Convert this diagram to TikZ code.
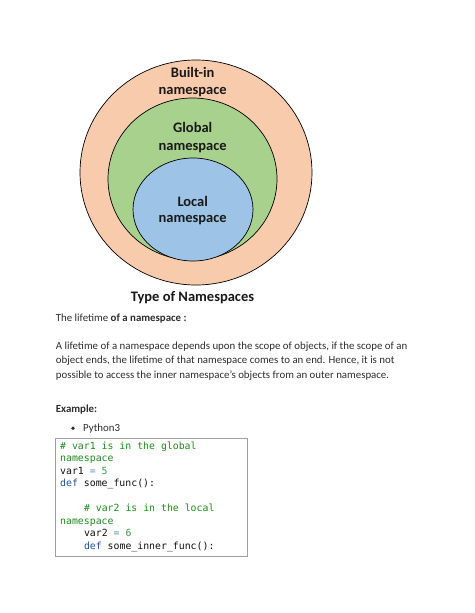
\documentclass[tikz,border=0pt]{standalone}
\usepackage{fontspec}
\setmainfont{Carlito}
\newfontfamily\codefont{DejaVu Sans Mono}
\definecolor{peach}{HTML}{F8CBAD}
\definecolor{leaf}{HTML}{A9D18E}
\definecolor{sky}{HTML}{9DC3E6}
\definecolor{bodytext}{HTML}{2E2E2E}
\definecolor{cmt}{HTML}{1E8C1E}
\definecolor{kw}{HTML}{1F4FA8}
\definecolor{num}{HTML}{3A9A4A}
\definecolor{op}{HTML}{5A8FB8}
\definecolor{codetext}{HTML}{111111}
\definecolor{boxline}{HTML}{A0A0A0}
\begin{document}
\begin{tikzpicture}[x=1pt,y=-1pt,
  ring/.style={draw=black,line width=0.7pt},
  circlabel/.style={font=\fontsize{14.5}{17}\selectfont\bfseries,text=black!90,anchor=base,inner sep=0pt},
  bodyline/.style={font=\fontsize{10.85}{14.5}\selectfont,text=bodytext,anchor=base west,inner sep=0pt},
  codeline/.style={font=\codefont\fontsize{9.85}{12.5}\selectfont,text=codetext,anchor=base west,inner sep=0pt}]
\useasboundingbox (0,0) rectangle (474,613);
\fill[white] (0,0) rectangle (474,613);
% circles
\draw[ring,fill=peach] (196,172.5) ellipse [x radius=116,y radius=112.5];
\draw[ring,fill=leaf] (192.5,179) ellipse [x radius=84.5,y radius=81];
\draw[ring,fill=sky] (193,209.5) ellipse [x radius=60,y radius=51.5];
\node[circlabel] (b1) at (192.7,77.4) {Built-in};
\node[circlabel] (b2) at (192.7,94.4) {namespace};
\node[circlabel] (g1) at (192.7,132.7) {Global};
\node[circlabel] (g2) at (192.7,150.1) {namespace};
\node[circlabel] (l1) at (192.7,206.4) {Local};
\node[circlabel] (l2) at (192.7,222.6) {namespace};
\node[circlabel] (title) at (192.5,301.4) {Type of Namespaces};
% body text
\node[bodyline] (life) at (55.7,321.5) {The lifetime \textbf{of a namespace :}};
\node[bodyline] (p1) at (55.7,349) {A lifetime of a namespace depends upon the scope of objects, if the scope of an};
\node[bodyline] (p2) at (55.7,363.5) {object ends, the lifetime of that namespace comes to an end. Hence, it is not};
\node[bodyline] (p3) at (55.7,378) {possible to access the inner namespace’s objects from an outer namespace.};
\node[bodyline,font=\fontsize{10.85}{14.5}\selectfont\bfseries] (ex) at (55.7,412.4) {Example:};
\fill[bodytext] (73,428.2) circle [radius=1.9];
\node[bodyline] (py) at (83,431.5) {Python3};
% code box
\draw[boxline,line width=0.8pt] (55.7,438.5) rectangle (247.7,556);
\node[codeline,text=cmt] (c1) at (60,449) {\# var1 is in the global};
\node[codeline,text=cmt] (c2) at (60,461.5) {namespace};
\node[codeline] (c3) at (60,474) {var1 \textcolor{op}{=} \textcolor{num}{5}};
\node[codeline] (c4) at (60,486.5) {\textcolor{kw}{def} some\_func():};
\node[codeline,text=cmt] (c5) at (83.8,511.5) {\# var2 is in the local};
\node[codeline,text=cmt] (c6) at (60,524) {namespace};
\node[codeline] (c7) at (83.8,536.5) {var2 \textcolor{op}{=} \textcolor{num}{6}};
\node[codeline] (c8) at (83.8,549) {\textcolor{kw}{def} some\_inner\_func():};
\end{tikzpicture}
\end{document}
